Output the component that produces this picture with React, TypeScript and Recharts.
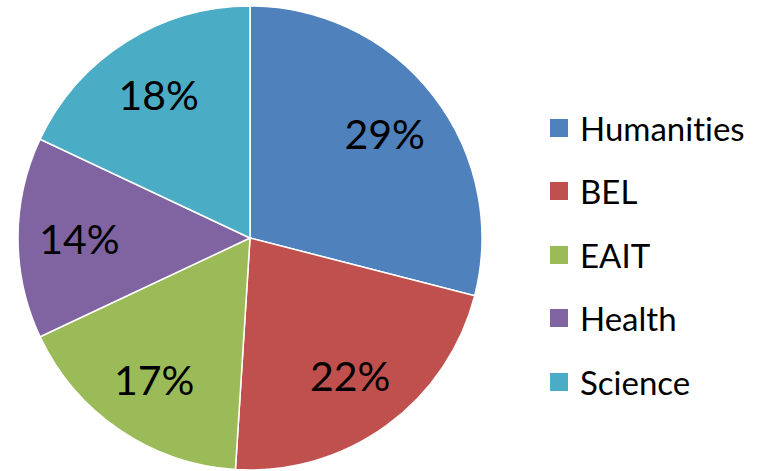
import React from "react";
import { PieChart, Pie, Cell, Legend } from "recharts";

const categories = ["Humanities", "BEL", "EAIT", "Health", "Science"];
const shares = [29, 22, 17, 14, 18];
const colors = ["#4F81BD", "#C0504D", "#9BBB59", "#8064A2", "#4BACC6"];

const data = categories.map((name, i) => ({ name, value: shares[i] }));

const RADIAN = Math.PI / 180;
const FONT = "Lato, 'Liberation Sans', sans-serif";

const renderLabel = (props: any) => {
  const { cx, cy, midAngle, outerRadius, value } = props;
  const r = outerRadius * 0.735;
  const x = cx + r * Math.cos(-midAngle * RADIAN);
  const y = cy + r * Math.sin(-midAngle * RADIAN);
  return (
    <text
      x={x}
      y={y}
      fill="#000"
      textAnchor="middle"
      dominantBaseline="central"
      fontSize={41}
      fontFamily={FONT}
      style={{ fontVariantLigatures: "none" }}
    >
      {`${value}%`}
    </text>
  );
};

const renderLegend = () => (
  <div style={{ fontFamily: FONT, fontSize: 33, color: "#000", fontVariantLigatures: "none" }}>
    {categories.map((c, i) => (
      <div key={c} style={{ display: "flex", alignItems: "center", height: 63.5 }}>
        <span
          style={{
            display: "inline-block",
            width: 18,
            height: 18,
            background: colors[i],
            marginRight: 12,
          }}
        />
        <span>{c}</span>
      </div>
    ))}
  </div>
);

export default function App() {
  return (
    <div style={{ position: "absolute", left: 0, top: 0, width: 771, height: 471, background: "#fff" }}>
      <PieChart width={771} height={471} margin={{ top: 0, right: 0, bottom: 0, left: 0 }}>
        <Pie
          data={data}
          dataKey="value"
          nameKey="name"
          cx={250}
          cy={238}
          outerRadius={232}
          startAngle={90}
          endAngle={-270}
          stroke="#fff"
          strokeWidth={1.5}
          label={renderLabel}
          labelLine={false}
          isAnimationActive={false}
        >
          {data.map((d, i) => (
            <Cell key={d.name} fill={colors[i]} />
          ))}
        </Pie>
        <Legend
          content={renderLegend}
          wrapperStyle={{ position: "absolute", left: 550, top: 96, width: 220 }}
        />
      </PieChart>
    </div>
  );
}
